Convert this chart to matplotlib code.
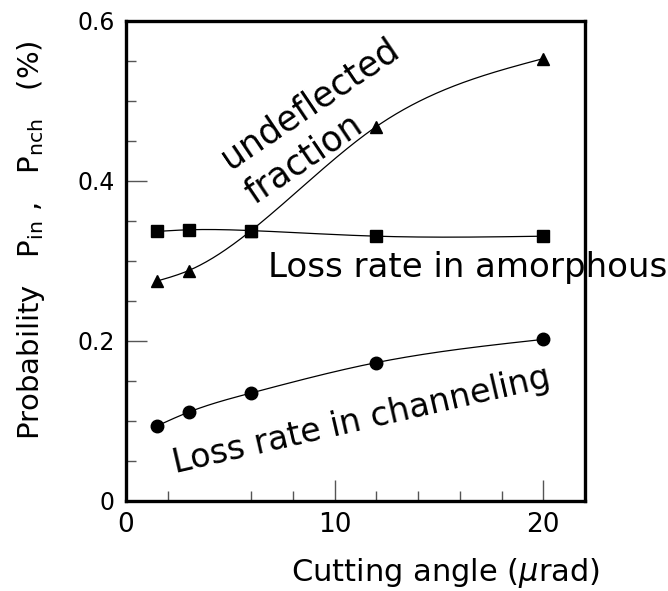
import numpy as np
import matplotlib
matplotlib.use("Agg")
import matplotlib.pyplot as plt
from matplotlib.ticker import FixedLocator

# Cutting angle (urad)
angle = [1.5, 3, 6, 12, 20]
# Probabilities (%)
undeflected = [0.275, 0.288, 0.338, 0.468, 0.553]
loss_amorphous = [0.337, 0.339, 0.338, 0.331, 0.331]
loss_channeling = [0.094, 0.111, 0.135, 0.173, 0.202]

x_major = [0, 10, 20]
x_minor = [2, 6, 8, 12, 14, 16, 18]
y_major = [0, 0.2, 0.4, 0.6]
y_major_labels = ["0", "0.2", "0.4", "0.6"]

W, H = 668, 591


def natural_spline(x, y, n=300):
    """Smooth natural cubic spline through the given points."""
    x = np.asarray(x, float)
    y = np.asarray(y, float)
    m = len(x)
    h = np.diff(x)
    A = np.zeros((m, m))
    b = np.zeros(m)
    A[0, 0] = A[-1, -1] = 1.0
    for i in range(1, m - 1):
        A[i, i - 1] = h[i - 1]
        A[i, i] = 2 * (h[i - 1] + h[i])
        A[i, i + 1] = h[i]
        b[i] = 6 * ((y[i + 1] - y[i]) / h[i] - (y[i] - y[i - 1]) / h[i - 1])
    M = np.linalg.solve(A, b)
    xs = np.linspace(x[0], x[-1], n)
    idx = np.clip(np.searchsorted(x, xs) - 1, 0, m - 2)
    x0, x1 = x[idx], x[idx + 1]
    hh = x1 - x0
    t0, t1 = x1 - xs, xs - x0
    ys = (M[idx] * t0 ** 3 + M[idx + 1] * t1 ** 3) / (6 * hh) \
        + (y[idx] / hh - M[idx] * hh / 6) * t0 \
        + (y[idx + 1] / hh - M[idx + 1] * hh / 6) * t1
    return xs, ys


def fig_xy(px, py):
    """Pixel position measured from the top-left corner -> figure fraction."""
    return px / W, 1 - py / H


fig = plt.figure(figsize=(W / 100, H / 100), dpi=100)
ax = fig.add_axes([0.1886, 0.1523, 0.6871, 0.8122])

for series, marker, ms, z in [
    (undeflected, "^", 9, 3),
    (loss_amorphous, "s", 9, 4),
    (loss_channeling, "o", 9, 3),
]:
    xs, ys = natural_spline(angle, series)
    ax.plot(xs, ys, color="black", lw=0.9, zorder=z)
    ax.plot(angle, series, linestyle="none", marker=marker, ms=ms,
            color="black", zorder=z + 0.1)

ax.set_xlim(0, 22)
ax.set_ylim(0, 0.6)

ax.xaxis.set_major_locator(FixedLocator(x_major))
ax.xaxis.set_minor_locator(FixedLocator(x_minor))
ax.yaxis.set_major_locator(FixedLocator(y_major))
ax.yaxis.set_minor_locator(FixedLocator(np.arange(0.05, 0.6, 0.05)))
ax.set_yticklabels(y_major_labels)

ax.tick_params(which="both", direction="in", color="#555555", width=1.0,
               top=False, right=False)
ax.tick_params(which="major", length=15)
ax.tick_params(which="minor", length=7)
ax.tick_params(axis="x", labelsize=19, pad=8)
ax.tick_params(axis="y", labelsize=17, pad=8)

for s in ax.spines.values():
    s.set_linewidth(2.4)
    s.set_zorder(5)

ax.set_xlabel(r"Cutting angle ($\mu$rad)", fontsize=22)
ax.xaxis.set_label_coords(0.695, -0.115)
ax.set_ylabel(r"Probability   P$_{\rm in}$ ,   P$_{\rm nch}$   (%)",
              fontsize=21)
ax.yaxis.set_label_coords(-0.172, 0.544)

ax.text(*fig_xy(322, 121), "undeflected\nfraction", transform=fig.transFigure,
        fontsize=25, rotation=34, ha="center", va="center", ma="left",
        rotation_mode="anchor", linespacing=1.3)
ax.text(*fig_xy(268, 268), "Loss rate in amorphous", transform=fig.transFigure,
        fontsize=24.5, ha="left", va="center", zorder=2, clip_on=False)
ax.text(*fig_xy(362, 420), "Loss rate in channeling", transform=fig.transFigure,
        fontsize=24, rotation=13, ha="center", va="center",
        rotation_mode="anchor")

fig.savefig("out.png", dpi=100)
